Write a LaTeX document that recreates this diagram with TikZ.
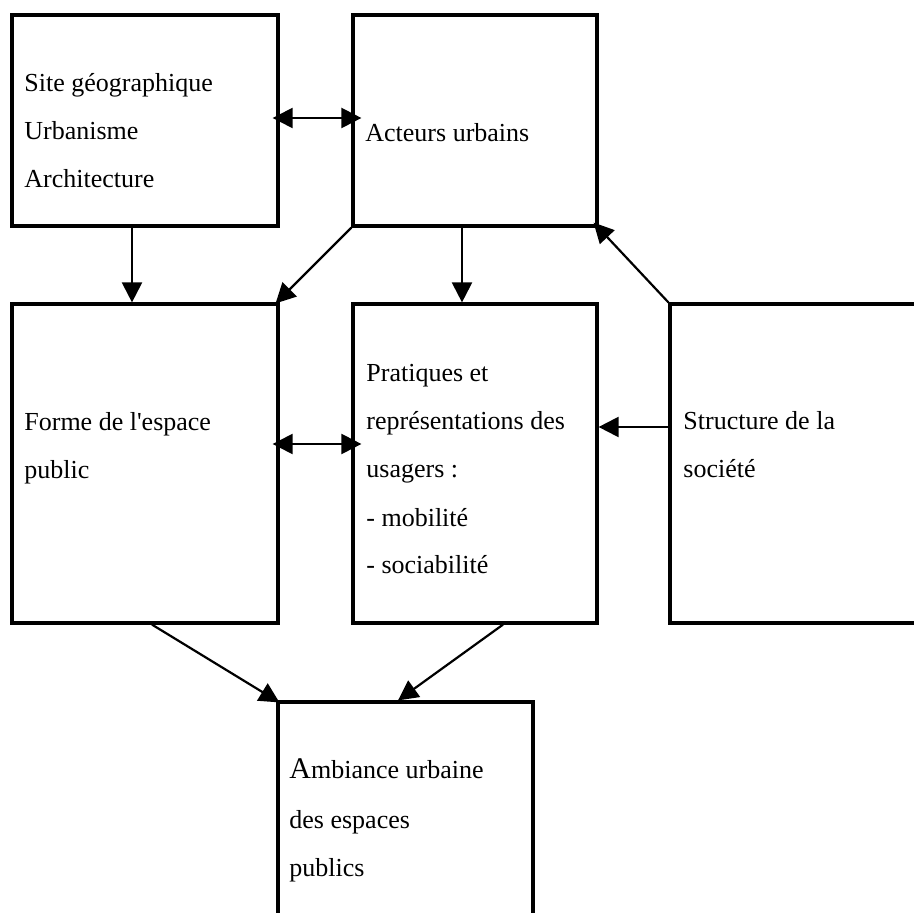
\documentclass[tikz,border=0pt]{standalone}
\usepackage{fontspec}
\setmainfont{Liberation Serif}
\usetikzlibrary{arrows.meta}

\begin{document}
\begin{tikzpicture}[x=0.5pt, y=-0.5pt,
    box/.style={draw, line width=1.6pt, inner sep=0pt},
    txt/.style={anchor=base west, inner sep=0pt, align=left, font=\fontsize{13}{24}\selectfont},
    link/.style={line width=1.1pt, -{Triangle[length=10pt,width=10pt]}},
    dlink/.style={line width=1.1pt, {Triangle[length=10pt,width=10pt]}-{Triangle[length=10pt,width=10pt]}}]
  \useasboundingbox (0,0) rectangle (914,913);
  \clip (0,0) rectangle (914,913);

  % boxes
  \node[box, minimum width=133pt, minimum height=105.5pt] (site)      at (145,120.5) {};
  \node[box, minimum width=122pt, minimum height=105.5pt] (acteurs)   at (475,120.5) {};
  \node[box, minimum width=133pt, minimum height=159.5pt] (forme)     at (145,463.5) {};
  \node[box, minimum width=122pt, minimum height=159.5pt] (pratiques) at (475,463.5) {};
  \node[box, minimum width=125pt, minimum height=159.5pt] (structure) at (795,463.5) {};
  \node[box, minimum width=127.5pt, minimum height=114pt] (ambiance)  at (405.5,816) {};

  % texts (base = last line)
  \node[txt] (sitetxt)      at (24,188)  {Site géographique\\Urbanisme\\Architecture};
  \node[txt] (acteurstxt)   at (365,142) {Acteurs urbains};
  \node[txt] (formetxt)     at (24,479)  {Forme de l\textquotesingle espace\\public};
  \node[txt] (pratiquestxt) at (366,574) {Pratiques et\\représentations des\\usagers :\\- mobilité\\- sociabilité};
  \node[txt] (structuretxt) at (683,478) {Structure de la\\société};
  \node[txt] (ambiancetxt)  at (289,876) {{\fontsize{15}{24}\selectfont A}mbiance urbaine\\[1pt]des espaces\\publics};

  % arrows
  \draw[dlink] ([xshift=-3.5pt,yshift=1.25pt]site.east) -- ([xshift=5pt,yshift=1.25pt]acteurs.west);
  \draw[dlink] ([xshift=-3.5pt,yshift=9.75pt]forme.east) -- ([xshift=5pt,yshift=9.75pt]pratiques.west);
  \draw[link] ([xshift=-6.5pt]site.south) -- ([xshift=-6.5pt]forme.north);
  \draw[link] ([xshift=-6.5pt]acteurs.south) -- ([xshift=-6.5pt]pratiques.north);
  \draw[link] (acteurs.south west) -- ([xshift=-2pt,yshift=-0.5pt]forme.north east);
  \draw[link] (structure.north west) -- ([xshift=-2.5pt,yshift=2.5pt]acteurs.south east);
  \draw[link] ([yshift=18.25pt]structure.west) -- ([yshift=18.25pt]pratiques.east);
  \draw[link] ([xshift=3.5pt]forme.south) -- ([xshift=1.5pt,yshift=-1pt]ambiance.north west);
  \draw[link] ([xshift=14pt]pratiques.south) -- ([xshift=-3.75pt]ambiance.north);
\end{tikzpicture}
\end{document}
